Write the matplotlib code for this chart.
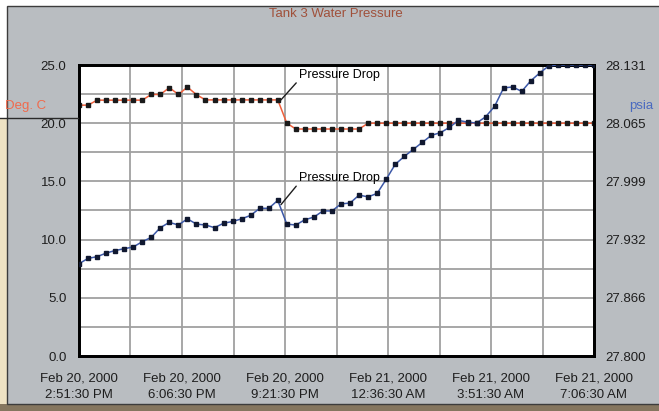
import numpy as np
import pandas as pd
import matplotlib
matplotlib.use("Agg")
import matplotlib.pyplot as plt
from matplotlib.patches import Rectangle
from matplotlib.lines import Line2D

plt.rcParams['font.family'] = ['Liberation Sans', 'DejaVu Sans']

# sample times (58 logged points over the run)
t_start = pd.Timestamp("2000-02-20 14:51:30")
t_end = pd.Timestamp("2000-02-21 07:06:30")
times = pd.date_range(t_start, t_end, periods=58)

# temperature, Deg. C (left axis)
temp_c = [21.55, 21.55,
          21.98, 21.98, 21.98, 21.98, 21.98, 21.98,
          22.47, 22.47, 23.05, 22.47, 23.10, 22.45,
          22.00, 22.00, 22.00, 22.00, 22.00, 22.00, 22.00, 22.00, 22.00,
          20.00,
          19.50, 19.50, 19.50, 19.50, 19.50, 19.50, 19.50, 19.50,
          20.00, 20.00, 20.00, 20.00, 20.00, 20.00, 20.00, 20.00, 20.00, 20.00,
          20.00, 20.00, 20.00, 20.00, 20.00, 20.00, 20.00, 20.00, 20.00, 20.00,
          20.00, 20.00, 20.00, 20.00, 20.00, 20.00]

# water pressure, psia (right axis)
pressure_psia = [27.905, 27.911, 27.913, 27.917, 27.920, 27.922, 27.924, 27.930,
                 27.935, 27.946, 27.952, 27.949, 27.956, 27.950, 27.949, 27.946,
                 27.951, 27.953, 27.956, 27.960, 27.968, 27.968, 27.977,
                 27.950, 27.949, 27.955, 27.958, 27.965, 27.965, 27.973,
                 27.974, 27.983, 27.981, 27.985, 28.001,
                 28.018, 28.027, 28.035, 28.043, 28.051, 28.054, 28.060, 28.068,
                 28.066, 28.065, 28.072, 28.084, 28.105, 28.106, 28.101, 28.113,
                 28.122, 28.130,
                 28.131, 28.131, 28.131, 28.131, 28.131]

left_ticks = [0.0, 5.0, 10.0, 15.0, 20.0, 25.0]
right_ticks = [27.800, 27.866, 27.932, 27.999, 28.065, 28.131]

W, H = 659, 411
fig = plt.figure(figsize=(W / 100, H / 100), dpi=100, facecolor='white')

# window panel and the bits of the slide behind it
fig.patches.append(Rectangle((0, 0), 1, 7 / H, transform=fig.transFigure,
                             facecolor='#85765f', edgecolor='none', zorder=-3))
fig.patches.append(Rectangle((0, 7 / H), 7 / W, (404 - 118) / H, transform=fig.transFigure,
                             facecolor='#eee2c3', edgecolor='none', zorder=-3))
fig.patches.append(Rectangle((7 / W, 7 / H), 1.0, (404 - 6) / H, transform=fig.transFigure,
                             facecolor='#b9bdc1', edgecolor='#3c3c3c', linewidth=1, zorder=-2))
fig.lines.append(Line2D([0, 78 / W], [1 - 118 / H, 1 - 118 / H], transform=fig.transFigure,
                        color='#2a2a2a', linewidth=1))

ax = fig.add_axes([79 / W, 1 - 356 / H, (594 - 79) / W, (356 - 65) / H])
ax.set_facecolor('white')
ax2 = ax.twinx()

ax.plot(times, temp_c, color='#f0603c', linewidth=1.1, marker='s', markersize=2.3,
        markerfacecolor='#1a1a1a', markeredgecolor='#1a1a1a', zorder=3)
ax2.plot(times, pressure_psia, color='#3c58a8', linewidth=1.1, marker='s', markersize=2.3,
         markerfacecolor='#101830', markeredgecolor='#101830', zorder=3)

ax.set_ylim(0, 25)
ax2.set_ylim(right_ticks[0], right_ticks[-1])
ax.set_xlim(t_start, t_end)

ax.set_yticks(left_ticks)
ax.set_yticklabels([f"{v:.1f}" for v in left_ticks])
ax.set_yticks(np.arange(0, 25.01, 2.5), minor=True)
ax2.set_yticks(right_ticks)
ax2.set_yticklabels([f"{v:.3f}" for v in right_ticks])

major_x = pd.date_range(t_start, t_end, freq='195min')
minor_x = pd.date_range(t_start, t_end, freq='97min30s')
ax.set_xticks(major_x)
ax.set_xticks(minor_x, minor=True)
ax.set_xticklabels([d.strftime('%b %d, %Y') + '\n' + d.strftime('%I:%M:%S %p').lstrip('0')
                    for d in major_x])

ax.grid(True, which='both', color='#a0a0a0', linewidth=1.3)
ax.set_axisbelow(True)

for a in (ax, ax2):
    a.tick_params(which='both', length=0, labelsize=9.5, colors='#1e1e1e')
    for s in a.spines.values():
        s.set_color('black')
        s.set_linewidth(2)
ax.tick_params(axis='y', pad=9)
ax.tick_params(axis='x', pad=12)
ax2.tick_params(axis='y', pad=8)
for lbl in ax.get_xticklabels():
    lbl.set_linespacing(1.45)

fig.text(336 / W, 1 - 14 / H, "Tank 3 Water Pressure", ha='center', va='center',
         fontsize=9.5, color='#a0503a')
fig.text(5 / W, 1 - 106 / H, "Deg. C", ha='left', va='center', fontsize=9.5, color='#f06a4c')
fig.text(629 / W, 1 - 106 / H, "psia", ha='left', va='center', fontsize=9.5, color='#4a6ac0')

for y_pt, y_txt in ((22.0, 75), (13.0, 178)):
    ax.annotate("Pressure Drop", xy=(times[22] + pd.Timedelta(minutes=6), y_pt),
                xytext=(299 / W, 1 - y_txt / H), textcoords='figure fraction',
                ha='left', va='center', fontsize=9, color='black',
                arrowprops=dict(arrowstyle='-', color='#1e1e1e', linewidth=1,
                                relpos=(0.0, 0.1), shrinkA=0, shrinkB=0))

fig.savefig("out.png", dpi=100, facecolor=fig.get_facecolor())
